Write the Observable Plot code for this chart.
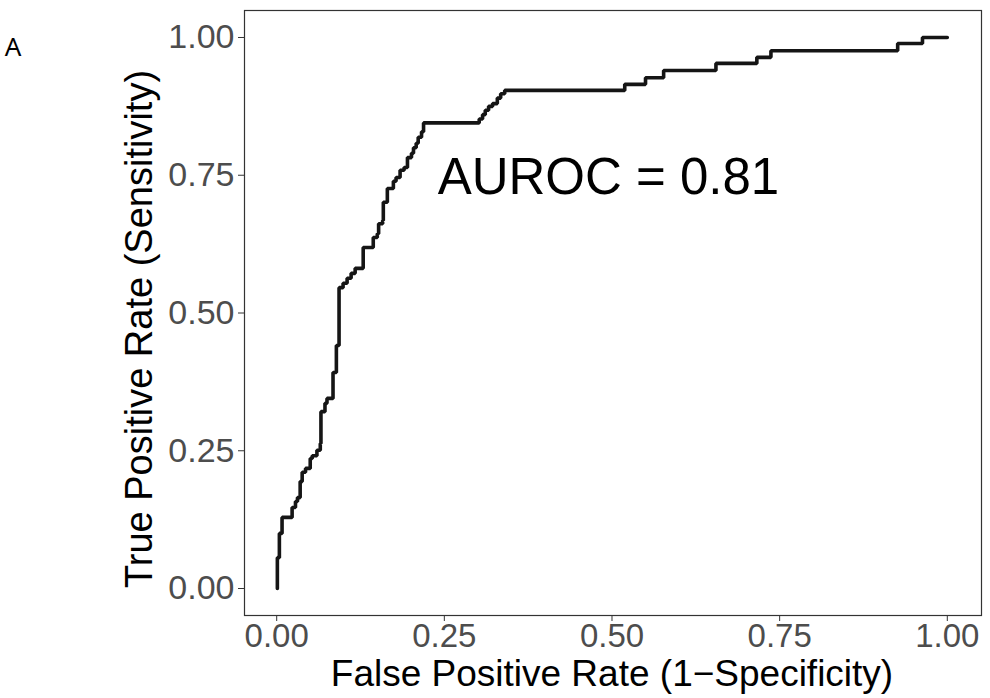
<!DOCTYPE html>
<html><head><meta charset="utf-8">
<script src="https://cdn.jsdelivr.net/npm/d3@7"></script>
<script src="https://cdn.jsdelivr.net/npm/@observablehq/plot@0.6"></script>
<style>
html,body{margin:0;padding:0;background:#fff;}
#chart{width:990px;height:698px;}
</style></head><body><div id="chart"></div>
<script>
// ROC curve vertices (false positive rate, true positive rate)
const fpr = [0.001, 0.004, 0.008, 0.023, 0.028, 0.031, 0.035, 0.038, 0.043, 0.050,
  0.053, 0.060, 0.065, 0.066, 0.072, 0.075, 0.084, 0.089, 0.093, 0.099,
  0.105, 0.111, 0.117, 0.129, 0.144, 0.150, 0.152, 0.158, 0.159, 0.165,
  0.174, 0.178, 0.184, 0.190, 0.195, 0.201, 0.204, 0.208, 0.211, 0.216,
  0.219, 0.302, 0.307, 0.311, 0.316, 0.322, 0.329, 0.334, 0.340, 0.519,
  0.550, 0.577, 0.655, 0.716, 0.737, 0.926, 0.963, 1.000];
const tpr = [0.000, 0.056, 0.100, 0.129, 0.147, 0.158, 0.165, 0.194, 0.211, 0.218,
  0.236, 0.241, 0.251, 0.263, 0.321, 0.336, 0.345, 0.392, 0.441, 0.546,
  0.554, 0.563, 0.572, 0.581, 0.619, 0.637, 0.644, 0.662, 0.668, 0.701,
  0.726, 0.739, 0.746, 0.759, 0.764, 0.782, 0.790, 0.800, 0.808, 0.819,
  0.829, 0.845, 0.852, 0.860, 0.868, 0.875, 0.880, 0.890, 0.898, 0.904,
  0.915, 0.927, 0.940, 0.953, 0.964, 0.976, 0.989, 1.000];
const xTicks = [0, 0.25, 0.5, 0.75, 1];
const yTicks = [0, 0.25, 0.5, 0.75, 1];
const xTitle = "False Positive Rate (1\u2212Specificity)";
const yTitle = "True Positive Rate (Sensitivity)";
const annotation = "AUROC = 0.81";
const annotationPos = {x: 0.24, y: 0.745};
const panelLabel = "A";

const roc = fpr.map((x, i) => ({fpr: x, tpr: tpr[i]}));
const fmt = d3.format(".2f");

const chart = Plot.plot({
  width: 990, height: 698,
  marginLeft: 244, marginRight: 9, marginTop: 10, marginBottom: 83,
  style: {fontFamily: "'Liberation Sans', Arial, Helvetica, sans-serif", background: "#fff", overflow: "visible"},
  x: {domain: [-0.048, 1.051]},
  y: {domain: [-0.049, 1.049]},
  marks: [
    Plot.frame({stroke: "#333", strokeWidth: 1.2}),
    Plot.axisX({ticks: xTicks, tickFormat: fmt, tickSize: 6, tickPadding: 2, fontSize: 33, fill: "#4d4d4d", stroke: "#333", label: null}),
    Plot.axisY({ticks: yTicks, tickFormat: fmt, tickSize: 6, tickPadding: 4, fontSize: 34, fill: "#4d4d4d", stroke: "#333", label: null}),
    Plot.line(roc, {x: "fpr", y: "tpr", curve: "step-before", stroke: "#151515", strokeWidth: 3.6, strokeLinejoin: "miter"}),
    Plot.text([annotation], {x: annotationPos.x, y: annotationPos.y, text: d => d, textAnchor: "start", lineAnchor: "middle", fontSize: 51, fill: "#000"})
  ]
});
document.getElementById("chart").appendChild(chart);

const svg = d3.select(chart);
svg.append("text").attr("x", 612).attr("y", 686).attr("text-anchor", "middle")
  .attr("font-size", 37).attr("fill", "#000").text(xTitle);
svg.append("text").attr("transform", "translate(152,329) rotate(-90)").attr("text-anchor", "middle")
  .attr("font-size", 38).attr("fill", "#000").text(yTitle);
svg.append("text").attr("x", 13).attr("y", 56).attr("font-size", 26)
  .attr("font-family", "'Noto Sans', 'Open Sans', sans-serif").attr("fill", "#000").text(panelLabel);
</script>
</body></html>
